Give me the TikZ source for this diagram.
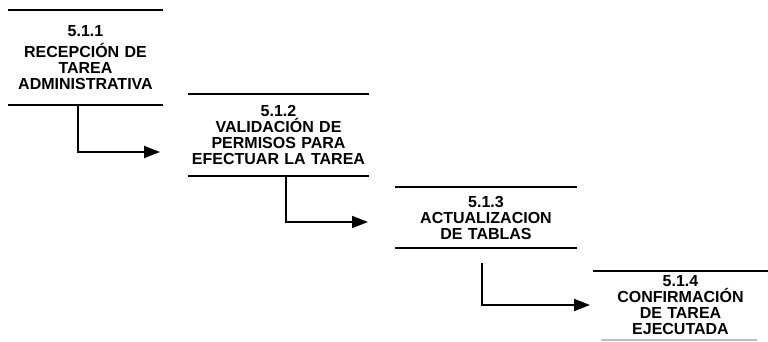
\documentclass[tikz,border=0pt]{standalone}
\usepackage{fontspec}
\setmainfont{Liberation Sans}
\usetikzlibrary{arrows.meta}

\tikzset{
  proc/.style={inner sep=0pt, align=center, font=\bfseries\fontsize{12}{12}\selectfont},
  rule/.style={line width=1.5pt},
  flow/.style={line width=1.4pt, -{Triangle[length=12pt,width=9pt]}},
}

\begin{document}
\begin{tikzpicture}[x=0.75pt, y=-0.75pt]

  \useasboundingbox (0,0) rectangle (768,342);

  % -- processes --
  \node[proc, text width=116pt, minimum height=71pt] (b1) at (85.5,57.5)
    {5.1.1\\[4pt] RECEPCIÓN DE\\ TAREA\\ ADMINISTRATIVA};
  \node[proc, text width=136pt, minimum height=61.5pt] (b2) at (278.5,135)
    {5.1.2\\ VALIDACIÓN DE\\ PERMISOS PARA\\ EFECTUAR LA TAREA};
  \node[proc, text width=136pt, minimum height=45.75pt] (b3) at (486,217.5)
    {5.1.3\\ ACTUALIZACION\\ DE TABLAS};
  \node[proc, text width=131pt, minimum height=51.75pt] (b4) at (680.5,305.5)
    {5.1.4\\ CONFIRMACIÓN\\ DE TAREA\\ EJECUTADA};

  % -- top and bottom rules --
  \foreach \b in {b1,b2,b3} {
    \draw[rule] (\b.north west) -- (\b.north east);
    \draw[rule] (\b.south west) -- (\b.south east);
  }
  \draw[rule] (b4.north west) -- (b4.north east);
  \draw[rule, black!25] ([xshift=6]b4.south west) -- ([xshift=-8]b4.south east);

  % -- arrow ends --
  \coordinate (e1) at (160,152);
  \coordinate (e2) at (368,222);
  \coordinate (e3) at (590,305);

  % -- flow --
  \draw[flow] (b1.south -| 78,0) |- (e1);
  \draw[flow] (b2.south -| 286,0) |- (e2);
  \draw[flow] ([yshift=-11]b3.south -| 482,0) |- (e3);

\end{tikzpicture}
\end{document}
